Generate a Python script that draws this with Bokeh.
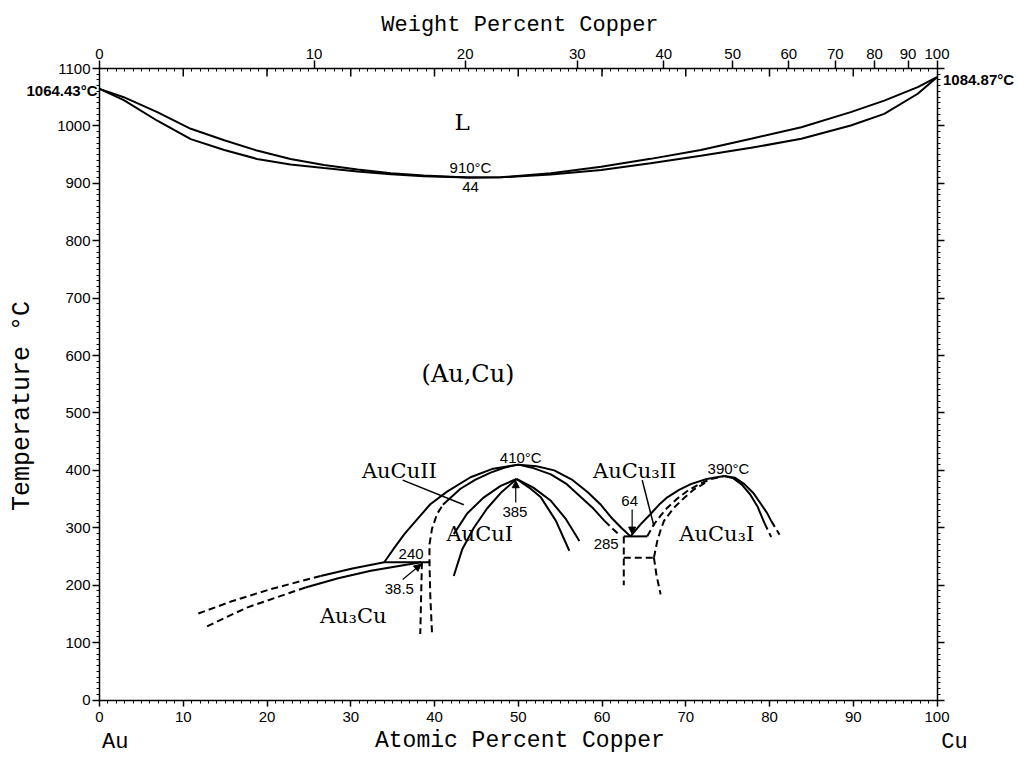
import math
from bokeh.plotting import figure
from bokeh.models import LinearAxis, FixedTicker, Arrow, NormalHead, ColumnDataSource, Range1d
from bokeh.core.properties import value
from bokeh.embed import file_html
from bokeh.resources import INLINE

# ---------------- data (atomic % Cu, temperature degC) ----------------
liq_x = [0, 2.9, 6.9, 10.9, 14.9, 18.8, 22.8, 26.8, 30.8, 34.8, 38.7, 44.0, 47.9, 53.9, 59.9, 65.8, 71.8, 77.8, 83.8, 89.7, 93.7, 97.7, 100]
liq_t = [1064.43, 1050, 1024, 995, 975, 957, 942.5, 932, 924, 917.6, 913.5, 910, 910.6, 917.6, 929, 942.6, 958, 977.5, 997.7, 1024, 1044, 1067.5, 1084.87]
sol_x = [0, 2.9, 6.9, 10.9, 14.9, 18.8, 22.8, 26.8, 30.8, 34.8, 38.7, 44.0, 47.9, 53.9, 59.9, 65.8, 71.8, 77.8, 83.8, 89.7, 93.7, 97.7, 100]
sol_t = [1064.43, 1045, 1009, 977, 958, 942.5, 932.7, 926.5, 920.5, 915.8, 912.3, 910, 910.4, 915.3, 923.4, 935, 948, 961.8, 977.5, 1000.7, 1021, 1056, 1084.87]

# Au3Cu boundaries
au3cu_up_x = [34.0, 30.2, 26.4]
au3cu_up_t = [240, 229, 216]
au3cu_up_dash_x = [26.4, 20.4, 15.8, 11.5]
au3cu_up_dash_t = [216, 193, 172, 149]
au3cu_lo_x = [38.4, 32.4, 28.5, 24.6]
au3cu_lo_t = [240, 225, 212, 196]
au3cu_lo_dash_x = [24.6, 21.0, 17.6, 12.5]
au3cu_lo_dash_t = [196, 178, 161, 126]
au3cu_right_x = [38.5, 38.4, 38.3]
au3cu_right_t = [240, 180, 115]
iso240_x = [34.0, 39.5]
iso240_t = [240, 240]

# AuCuII outer arc (solid)
arcA_x = [34.0, 35.2, 36.4, 38.0, 39.5, 41.5, 44.3, 47.0, 50.0, 52.2, 54.3, 56.4, 58.3, 59.8, 61.1, 62.3, 63.4]
arcA_t = [240, 265, 289, 316, 341, 363, 388, 403, 410, 407, 400, 384, 362, 341, 318, 300, 285]
# AuCuII inner arc
arcB_dash_x = [39.7, 39.5, 39.4, 39.4, 39.7, 40.3, 41.0]
arcB_dash_t = [118, 180, 240, 271, 298, 324, 340]
arcB_x = [41.0, 43.1, 44.9, 46.7, 48.4, 50.0, 51.8, 53.9, 55.8, 57.5, 59.0, 60.3]
arcB_t = [340, 368, 384, 396, 405, 410, 404, 393, 376, 353, 333, 312]
arcB_dash2_x = [60.3, 61.3, 62.2]
arcB_dash2_t = [312, 298, 286]

# AuCuI arcs
d1_x = [42.3, 43.9, 45.9, 47.9, 49.8]
d1_t = [289, 325, 353, 373, 385]
d2_x = [42.3, 43.3, 44.7, 46.3, 48.0, 49.8]
d2_t = [216, 262, 300, 334, 362, 385]
d3_x = [49.8, 51.8, 53.9, 55.7, 57.3]
d3_t = [385, 370, 347, 315, 277]
d4_x = [49.8, 51.3, 52.7, 54.5, 56.1]
d4_t = [385, 370, 353, 312, 260]

# AuCu3 region
iso285_x = [62.6, 65.4]
iso285_t = [285, 285]
v285_dash_x = [62.6, 62.6]
v285_dash_t = [285, 200]
iso248_dash_x = [62.6, 66.2]
iso248_dash_t = [248, 248]
e4_dash_x = [66.2, 66.5, 67.0]
e4_dash_t = [248, 218, 184]
e1_x = [63.4, 64.6, 65.8, 66.8, 67.8, 69.2, 70.6, 72.5, 74.6]
e1_t = [285, 306, 324, 340, 353, 366, 376, 385, 390]
e2_dash_x = [65.4, 66.2, 67.0, 67.8, 69.0, 70.2, 71.6, 73.0, 74.6]
e2_dash_t = [285, 306, 321, 335, 351, 364, 376, 385, 390]
e3_dash_x = [66.2, 66.6, 67.0, 67.4, 68.6, 69.8, 71.0, 72.3]
e3_dash_t = [248, 277, 296, 312, 335, 352, 367, 378]
f1_x = [74.6, 75.9, 77.0, 78.1, 79.0, 79.7, 80.2]
f1_t = [390, 387, 376, 360, 341, 326, 312]
f1_dash_x = [80.2, 81.2]
f1_dash_t = [312, 288]
f2_x = [74.6, 75.7, 76.7, 77.7, 78.6, 79.4]
f2_t = [390, 386, 375, 358, 336, 308]
f2_dash_x = [79.4, 80.2]
f2_dash_t = [308, 284]

# leader lines
lead_aucu2_x = [36.2, 43.5]
lead_aucu2_t = [383, 340]
lead_aucu3_x = [64.8, 66.2]
lead_aucu3_t = [383, 303]

# labels
phase_text = ["AuCuII", "AuCuI", "AuCu\u2083II", "AuCu\u2083I", "Au\u2083Cu"]
phase_x = [35.8, 45.4, 63.9, 73.7, 30.3]
phase_t = [399, 289, 399, 289, 146]
num_text = ["910\u00b0C", "44", "410\u00b0C", "385", "64", "285", "390\u00b0C", "240", "38.5"]
num_x = [44.3, 44.3, 50.3, 49.6, 63.3, 60.5, 75.1, 37.2, 35.8]
num_t = [927, 893, 422, 327, 347, 271, 404, 254, 193]
melt_au_x, melt_au_t, melt_au_text = 0, 1064.43, "1064.43\u00b0C"
melt_cu_x, melt_cu_t, melt_cu_text = 100, 1084.87, "1084.87\u00b0C"

# arrows (start x, start t, end x, end t)
arr_x0 = [49.7, 63.6, 36.2]
arr_t0 = [344, 332, 210]
arr_x1 = [49.7, 63.6, 38.4]
arr_t1 = [382, 289, 236.5]

# axes
at_ticks = [0, 10, 20, 30, 40, 50, 60, 70, 80, 90, 100]
at_minor = list(range(0, 101))
at_inner_top = [10, 20, 30, 40, 50, 60, 70, 80, 90]
t_ticks = list(range(0, 1101, 100))
t_minor = list(range(0, 1101, 10))
wt_labels = [0, 10, 20, 30, 40, 50, 60, 70, 80, 90, 100]
M_CU = 63.546
M_AU = 196.96657
wt_pos = [100 * (w / M_CU) / ((w / M_CU) + (100 - w) / M_AU) for w in wt_labels]

SANS = "Liberation Sans"
SERIF = "DejaVu Serif"
MONO = "Liberation Mono"

# the frame fills the whole canvas; axes sit at fixed data locations
W, H = 1029, 758
PX_L, PX_R = 99.0, 936.5      # canvas x of 0 and 100 at.%
PY_B, PY_T = 699.5, 68.0      # canvas y of 0 and 1100 degC
kx = 100.0 / (PX_R - PX_L)
ky = 1100.0 / (PY_B - PY_T)
x_lo, x_hi = -PX_L * kx, (W - PX_L) * kx
y_lo, y_hi = -(H - PY_B) * ky, 1100 + PY_T * ky

p = figure(width=W, height=H, x_range=Range1d(x_lo, x_hi), y_range=Range1d(y_lo, y_hi),
           x_axis_location=None, y_axis_location=None,
           output_backend="svg", toolbar_location=None, min_border=0)
p.grid.visible = False
p.outline_line_color = None
p.background_fill_color = "white"
p.border_fill_color = "white"


def style_axis(ax, tin, tout, mtin, mtout, standoff):
    ax.axis_line_color = "black"
    ax.axis_line_width = 1.5
    ax.major_tick_line_color = "black"
    ax.major_tick_line_width = 1.5
    ax.minor_tick_line_color = "black"
    ax.minor_tick_line_width = 1
    ax.major_tick_in = tin
    ax.major_tick_out = tout
    ax.minor_tick_in = mtin
    ax.minor_tick_out = mtout
    ax.major_label_standoff = standoff
    ax.major_label_text_font = SANS
    ax.major_label_text_font_size = "15px"
    ax.major_label_text_color = "black"


xb = LinearAxis(fixed_location=0, bounds=(0, 100),
                ticker=FixedTicker(ticks=at_ticks, minor_ticks=at_minor))
style_axis(xb, 0, 6, 0, 3, 6)
p.add_layout(xb, "below")

yl = LinearAxis(fixed_location=0, bounds=(0, 1100),
                ticker=FixedTicker(ticks=t_ticks, minor_ticks=t_minor))
style_axis(yl, 0, 7, 0, 3, 2)
p.add_layout(yl, "left")

top = LinearAxis(fixed_location=1100, bounds=(0, 100),
                 ticker=FixedTicker(ticks=wt_pos, minor_ticks=at_minor),
                 major_label_overrides={pos: str(w) for pos, w in zip(wt_pos, wt_labels)})
style_axis(top, 0, 8, 3, 0, 2)
p.add_layout(top, "above")

right = LinearAxis(fixed_location=100, bounds=(0, 1100),
                   ticker=FixedTicker(ticks=t_ticks, minor_ticks=t_minor),
                   major_label_overrides={t: "" for t in t_ticks})
style_axis(right, 0, 7, 0, 3, 2)
p.add_layout(right, "right")

# inward atomic-percent ticks on the top edge
p.segment(x0=at_inner_top, y0=[1100] * len(at_inner_top), x1=at_inner_top,
          y1=[1086] * len(at_inner_top), line_color="black", line_width=1.5)

LW = 2
DASH = "7 4"


def solid(xs, ts, w=LW):
    p.line(xs, ts, line_color="black", line_width=w)


def dashed(xs, ts, w=LW):
    p.line(xs, ts, line_color="black", line_width=w, line_dash=DASH)


solid(liq_x, liq_t)
solid(sol_x, sol_t)
solid(au3cu_up_x, au3cu_up_t)
dashed(au3cu_up_dash_x, au3cu_up_dash_t)
solid(au3cu_lo_x, au3cu_lo_t)
dashed(au3cu_lo_dash_x, au3cu_lo_dash_t)
dashed(au3cu_right_x, au3cu_right_t)
solid(iso240_x, iso240_t)
solid(arcA_x, arcA_t)
dashed(arcB_dash_x, arcB_dash_t)
solid(arcB_x, arcB_t)
dashed(arcB_dash2_x, arcB_dash2_t)
solid(d1_x, d1_t)
solid(d2_x, d2_t)
solid(d3_x, d3_t)
solid(d4_x, d4_t)
solid(iso285_x, iso285_t)
dashed(v285_dash_x, v285_dash_t)
dashed(iso248_dash_x, iso248_dash_t)
dashed(e4_dash_x, e4_dash_t)
solid(e1_x, e1_t)
dashed(e2_dash_x, e2_dash_t)
dashed(e3_dash_x, e3_dash_t)
solid(f1_x, f1_t)
dashed(f1_dash_x, f1_dash_t)
solid(f2_x, f2_t)
dashed(f2_dash_x, f2_dash_t)
solid(lead_aucu2_x, lead_aucu2_t, 1.5)
solid(lead_aucu3_x, lead_aucu3_t, 1.5)

for xs, ts, xe, te in zip(arr_x0, arr_t0, arr_x1, arr_t1):
    p.add_layout(Arrow(end=NormalHead(size=7, fill_color="black", line_color="black"),
                       x_start=xs, y_start=ts, x_end=xe, y_end=te,
                       line_color="black", line_width=1.2))

# phase labels
p.text(x=[43.3], y=[1006], text=["L"], text_font=value(SERIF), text_font_size="23px",
       text_align="center", text_baseline="middle", text_color="black")
p.text(x=[44.0], y=[568], text=["(Au,Cu)"], text_font=value(SERIF), text_font_size="24px",
       text_align="center", text_baseline="middle", text_color="black")
src_phase = ColumnDataSource(dict(x=phase_x, y=phase_t, text=phase_text))
p.text(x="x", y="y", text="text", source=src_phase, text_font=value(SERIF),
       text_font_size="21px", text_align="center", text_baseline="middle", text_color="black")
src_num = ColumnDataSource(dict(x=num_x, y=num_t, text=num_text))
p.text(x="x", y="y", text="text", source=src_num, text_font=value(SANS),
       text_font_size="15px", text_align="center", text_baseline="middle", text_color="black")

# melting points beside the frame
p.text(x=[melt_au_x], y=[melt_au_t], text=[melt_au_text], x_offset=-2, y_offset=2,
       text_font=value(SANS), text_font_size="15px", text_font_style="bold",
       text_align="right", text_baseline="middle", text_color="black")
p.text(x=[melt_cu_x], y=[melt_cu_t], text=[melt_cu_text], x_offset=6, y_offset=2,
       text_font=value(SANS), text_font_size="15px", text_font_style="bold",
       text_align="left", text_baseline="middle", text_color="black")

# axis titles and element names
p.text(x=[50.2], y=[1175], text=["Weight Percent Copper"], text_font=value(MONO),
       text_font_size="22px", text_align="center", text_baseline="middle", text_color="black")
p.text(x=[50.2], y=[-72], text=["Atomic Percent Copper"], text_font=value(MONO),
       text_font_size="23px", text_align="center", text_baseline="middle", text_color="black")
p.text(x=[0.3, 100.5], y=[-74, -74], text=["Au", "Cu"], text_font=value(MONO),
       text_font_size="22px", text_align="left", text_baseline="middle", text_color="black")
p.text(x=[-9.2], y=[512], text=["Temperature \u00b0C"], angle=math.pi / 2, text_font=value(MONO),
       text_font_size="25px", text_align="center", text_baseline="middle", text_color="black")

open("out.html", "w").write(file_html(p, INLINE))
